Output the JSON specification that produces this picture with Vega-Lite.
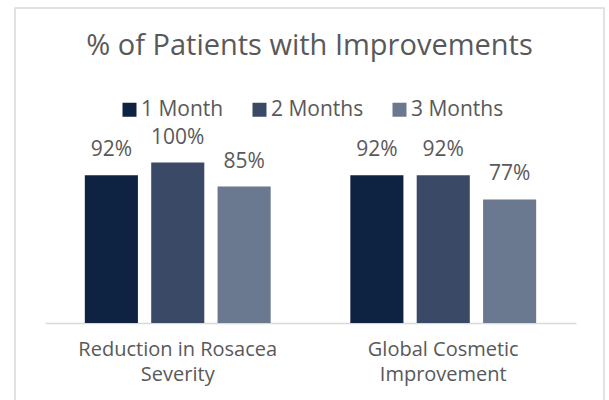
{
  "$schema": "https://vega.github.io/schema/vega-lite/v6.json",
  "autosize": {"type": "none"},
  "padding": {"left": 15, "top": 8, "right": 5, "bottom": 0},
  "width": 589,
  "height": 393,
  "background": "white",
  "config": {"view": {"stroke": "#d9d9d9", "strokeWidth": 1.5}, "font": "Open Sans"},
  "title": {"text": "% of Patients with Improvements", "fontSize": 29, "fontWeight": "normal", "color": "#595959", "anchor": "middle", "frame": "group", "baseline": "alphabetic", "offset": -76},
  "data": {"values": [
    {"measure": "Reduction in Rosacea Severity", "period": "1 Month", "value": 0.92},
    {"measure": "Reduction in Rosacea Severity", "period": "2 Months", "value": 1.0},
    {"measure": "Reduction in Rosacea Severity", "period": "3 Months", "value": 0.85},
    {"measure": "Global Cosmetic Improvement", "period": "1 Month", "value": 0.92},
    {"measure": "Global Cosmetic Improvement", "period": "2 Months", "value": 0.92},
    {"measure": "Global Cosmetic Improvement", "period": "3 Months", "value": 0.77}
  ]},
  "encoding": {
    "x": {"field": "measure", "type": "nominal", "sort": null,
      "scale": {"range": [30, 561], "paddingInner": 0.3, "paddingOuter": 0.15},
      "axis": {"title": null, "labelAngle": 0, "orient": "bottom", "offset": -78, "domainColor": "#d9d9d9", "domainWidth": 1.5, "ticks": false, "labelFontSize": 20, "labelColor": "#595959", "labelPadding": 16, "labelLineHeight": 25, "labelLimit": 0,
        "labelExpr": "datum.value == 'Reduction in Rosacea Severity' ? ['Reduction in Rosacea', 'Severity'] : ['Global Cosmetic', 'Improvement']"}},
    "xOffset": {"field": "period", "type": "nominal", "sort": null, "scale": {"paddingInner": 0.2, "paddingOuter": 0}},
    "y": {"field": "value", "type": "quantitative", "scale": {"domain": [-0.486, 1.963], "nice": false}, "axis": null}
  },
  "layer": [
    {"mark": {"type": "bar"},
     "encoding": {"color": {"field": "period", "type": "nominal", "sort": null,
       "scale": {"range": ["#0E2242", "#3A4A66", "#6A7890"]},
       "legend": {"orient": "none", "legendX": 104, "legendY": 91, "direction": "horizontal", "title": null, "symbolType": "square", "symbolSize": 196, "symbolStrokeWidth": 0, "labelFontSize": 21, "labelColor": "#595959", "labelOffset": 1, "columnPadding": 25, "padding": 0}}}},
    {"mark": {"type": "text", "fontSize": 21, "color": "#595959", "baseline": "alphabetic", "dy": -19},
     "encoding": {"text": {"field": "value", "type": "quantitative", "format": ".0%"}}}
  ]
}
